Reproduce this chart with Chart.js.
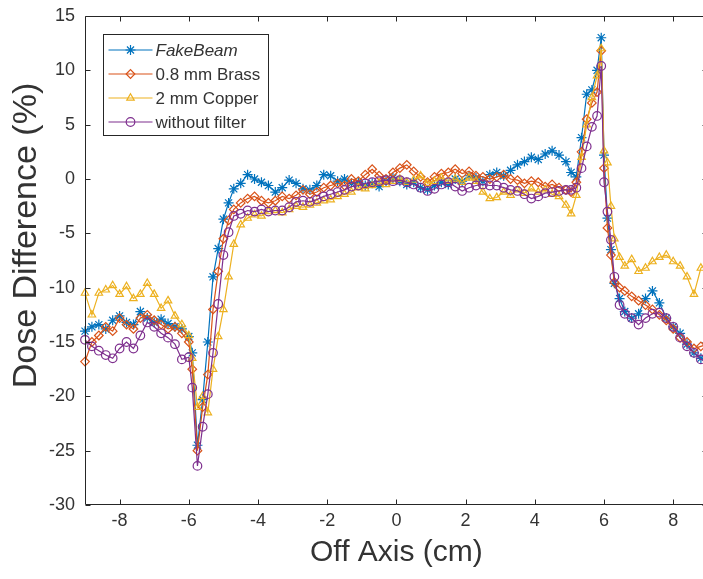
<!DOCTYPE html>
<html>
<head>
<meta charset="utf-8">
<title>Dose Difference vs Off Axis</title>
<script src="https://cdn.jsdelivr.net/npm/chart.js@4/dist/chart.umd.min.js"></script>
<style>
    html, body { margin: 0; padding: 0; background: #fff; overflow: hidden; }
    #wrap { width: 714px; height: 579px; }
</style>
</head>
<body>
<div id="wrap"><canvas id="dose-chart" width="714" height="579"></canvas></div>
<script>
// off-axis positions (cm) shared by all four profiles
const offAxisCm = [
    -9.0, -8.8, -8.6, -8.4, -8.2, -8.0, -7.8, -7.6, -7.4, -7.2, -7.0, -6.8, -6.6, -6.4, -6.2, -6.0,
    -5.9, -5.75, -5.6, -5.45, -5.3, -5.15, -5.0, -4.85, -4.7,
    -4.5, -4.3, -4.1, -3.9, -3.7, -3.5, -3.3, -3.1, -2.9, -2.7, -2.5, -2.3, -2.1, -1.9, -1.7, -1.5, -1.3, -1.1, -0.9, -0.7, -0.5, -0.3, -0.1, 0.1,
    0.3, 0.5, 0.7, 0.9, 1.1, 1.3, 1.5, 1.7, 1.9, 2.1, 2.3, 2.5, 2.7, 2.9, 3.1, 3.3, 3.5, 3.7, 3.9, 4.1, 4.3, 4.5, 4.7, 4.9,
    5.05, 5.2, 5.35, 5.5, 5.65, 5.8, 5.92, 6.0, 6.1, 6.2, 6.3, 6.45,
    6.6, 6.8, 7.0, 7.2, 7.4, 7.6, 7.8, 8.0, 8.2, 8.4, 8.6, 8.8, 9.0
];

// dose difference (%)
const fakeBeam = [
    -14.0, -13.6, -13.4, -13.8, -13.0, -12.6, -13.2, -13.4, -12.2, -12.8, -13.2, -12.9, -13.3, -13.6, -13.8, -14.5,
    -16.0, -24.5, -20.3, -15.0, -9.0, -6.4, -3.7, -2.2, -0.9,
    -0.4, 0.4, 0.0, -0.3, -0.6, -1.2, -0.8, -0.1, -0.4, -0.9, -1.0, -0.6, 0.4, 0.3, -0.2, 0.0, -0.4, -0.3, -0.6, -0.4, -0.7, -0.2, 0.1, -0.2,
    -0.5, -0.3, -0.8, -1.0, -0.6, -0.3, -0.5, 0.0, -0.2, 0.3, 0.1, -0.2, 0.4, 0.6, 0.3, 0.8, 1.3, 1.6, 2.0, 1.8, 2.3, 2.6, 2.2, 1.6,
    0.6, 0.2, 3.8, 7.8, 8.2, 10.0, 13.0, 2.2, -3.6, -6.5, -9.6, -11.0,
    -12.2, -12.8, -12.4, -11.0, -10.3, -11.4, -12.8, -13.6, -14.2, -15.2, -16.0, -16.5, -16.6
];
const brass08mm = [
    -16.8, -15.0, -14.4, -13.6, -14.0, -12.8, -13.4, -13.8, -12.8, -12.5, -13.0, -13.4, -13.8, -13.6, -14.2, -15.0,
    -17.5, -25.0, -21.0, -18.0, -12.0, -8.5, -5.5, -3.8, -2.8,
    -2.2, -1.8, -1.6, -2.0, -2.2, -2.0, -1.6, -1.8, -1.5, -1.0, -1.4, -1.2, -0.8, -0.6, -0.4, -0.6, 0.0, -0.2, 0.4, 0.9, 0.3, 0.0, 0.6, 1.0,
    1.3, 0.7, 0.2, -0.3, 0.2, 0.5, 0.6, 0.9, 0.5, 0.7, 0.3, 0.2, 0.0, 0.2, 0.4, 0.0, -0.1, -0.4, -0.2, -0.3, -0.7, -0.5, -0.8, -1.0,
    -1.2, -0.3, 2.5, 5.5, 7.0, 8.0, 11.8, 1.0, -4.5, -7.0, -9.5, -10.0,
    -10.3, -10.8, -11.2, -11.6, -12.0, -12.5, -13.0, -13.8, -14.6, -15.0, -15.6, -15.4, -15.2
];
const copper2mm = [
    -10.5, -12.5, -10.5, -10.2, -9.8, -10.6, -9.9, -11.0, -10.6, -9.6, -10.6, -11.9, -11.2, -12.6, -13.4, -14.4,
    -16.5, -21.0, -20.0, -21.5, -17.5, -14.5, -12.0, -9.0, -6.0,
    -4.2, -3.6, -3.3, -3.4, -3.0, -2.9, -3.1, -2.8, -2.5, -2.6, -2.4, -2.2, -2.0, -1.9, -1.6, -1.4, -1.2, -0.8, -0.9, -0.6, -0.4, -0.5, -0.2, 0.0,
    -0.3, -0.1, 0.3, -0.4, -0.2, 0.1, -0.2, 0.0, -0.3, 0.1, -0.2, -1.2, -1.8, -1.7, -1.2, -1.5, -1.0, -1.3, -0.9, -1.2, -1.0, -1.4, -1.6, -2.4,
    -3.2, -1.5, 2.0, 5.0, 7.5, 9.5, 12.0, 2.6, 1.5, -2.5, -5.5, -7.2,
    -8.0, -7.4, -8.5, -8.2, -7.6, -7.2, -7.0, -7.6, -8.0, -9.0, -10.6, -8.2, -7.6
];
const withoutFilter = [
    -14.8, -15.4, -15.8, -16.2, -16.5, -15.6, -15.0, -15.6, -14.4, -13.2, -13.6, -14.2, -14.6, -15.2, -16.6, -16.4,
    -19.2, -26.4, -22.8, -19.8, -16.0, -11.5, -7.0, -4.9, -3.4,
    -3.2, -2.9, -3.0, -2.8, -3.0, -2.9, -2.9, -2.6, -2.1, -2.0, -2.1, -1.9, -1.6, -1.4, -1.2, -1.0, -0.7, -0.6, -0.4, -0.3, -0.2, -0.1, -0.2, -0.1,
    -0.3, -0.5, -0.8, -1.1, -0.9, -0.5, -0.3, -0.7, -1.1, -0.8, -0.6, -0.5, -0.6, -0.6, -0.8, -1.0, -1.1, -1.4, -1.8, -1.6, -1.3, -1.2, -1.1, -1.0,
    -1.0, -0.8, 1.0, 3.0, 4.8, 5.8, 10.4, -0.3, -3.0, -5.6, -9.0, -11.6,
    -12.4, -12.8, -13.4, -12.8, -12.4, -12.3, -12.8, -13.6, -14.6, -15.4, -16.0, -16.6, -16.8
];

const seriesNames = ["FakeBeam", "0.8 mm Brass", "2 mm Copper", "without filter"];
const xTickValues = [-8, -6, -4, -2, 0, 2, 4, 6, 8];
const yTickValues = [-30, -25, -20, -15, -10, -5, 0, 5, 10, 15];
const yAxisTitle = "Dose Difference (%)";

const FONT = "'Liberation Sans', Arial, Helvetica, sans-serif";
const AXIS_COLOR = "#262626";
const TEXT_COLOR = "#333333";

function toPoints(values) {
    return offAxisCm.map((x, i) => ({ x: x, y: values[i] }));
}

function makeSeries(label, values, color, marker, order) {
    return {
        label: label,
        data: toPoints(values),
        borderColor: color,
        borderWidth: 1.2,
        pointStyle: marker,
        pointRadius: marker === "star" ? 5 : 4.3,
        pointBorderColor: color,
        pointBackgroundColor: "rgba(0,0,0,0)",
        pointBorderWidth: 1.2,
        pointHoverRadius: 4,
        tension: 0,
        fill: false,
        clip: false,
        order: order
    };
}

// box around the axes with inward tick marks, plus the rotated y title
const axesBox = {
    id: "axesBox",
    afterDatasetsDraw(chart) {
        const { ctx, chartArea: area } = chart;
        const xs = chart.scales.x, ys = chart.scales.y;
        const l = Math.round(area.left) + 0.5, r = Math.round(area.right) - 0.5;
        const t = Math.round(area.top) + 0.5, b = Math.round(area.bottom) - 0.5;
        const tick = 5;
        ctx.save();
        ctx.strokeStyle = AXIS_COLOR;
        ctx.lineWidth = 1;
        ctx.beginPath();
        ctx.rect(l, t, r - l, b - t);
        xTickValues.forEach(v => {
            const px = Math.round(xs.getPixelForValue(v)) + 0.5;
            ctx.moveTo(px, b); ctx.lineTo(px, b - tick);
            ctx.moveTo(px, t); ctx.lineTo(px, t + tick);
        });
        yTickValues.forEach(v => {
            const py = Math.round(ys.getPixelForValue(v)) + 0.5;
            ctx.moveTo(l, py); ctx.lineTo(l + tick, py);
            ctx.moveTo(r, py); ctx.lineTo(r - tick, py);
        });
        ctx.stroke();

        // y title sits a little above the middle of the axis
        ctx.translate(27, ys.getPixelForValue(-5.2));
        ctx.rotate(-Math.PI / 2);
        ctx.fillStyle = TEXT_COLOR;
        ctx.font = "34px " + FONT;
        ctx.textAlign = "center";
        ctx.textBaseline = "middle";
        ctx.fillText(yAxisTitle, 0, 0);
        ctx.restore();
    }
};

// legend box in the upper-left corner of the axes
const boxLegend = {
    id: "boxLegend",
    afterDraw(chart) {
        const { ctx, chartArea: area } = chart;
        const x0 = Math.round(area.left) + 18.5, y0 = Math.round(area.top) + 18.5;
        const w = 165, h = 101;
        ctx.save();
        ctx.fillStyle = "#ffffff";
        ctx.fillRect(x0, y0, w, h);
        ctx.strokeStyle = AXIS_COLOR;
        ctx.lineWidth = 1;
        ctx.strokeRect(x0, y0, w, h);

        const ordered = seriesNames.map(name => chart.data.datasets.find(d => d.label === name));
        ordered.forEach((ds, i) => {
            const rowY = y0 + 15.5 + i * 24;
            ctx.strokeStyle = ds.borderColor;
            ctx.lineWidth = 1.2;
            ctx.beginPath();
            ctx.moveTo(x0 + 5, rowY);
            ctx.lineTo(x0 + 49, rowY);
            ctx.stroke();
            ctx.fillStyle = "rgba(0,0,0,0)";
            Chart.helpers.drawPoint(ctx, {
                pointStyle: ds.pointStyle,
                radius: ds.pointRadius,
                borderWidth: 1.2,
                rotation: 0
            }, x0 + 27, rowY);
            ctx.fillStyle = TEXT_COLOR;
            ctx.textBaseline = "middle";
            ctx.textAlign = "left";
            ctx.font = (i === 0 ? "italic " : "") + "17px " + FONT;
            ctx.fillText(ds.label, x0 + 52, rowY + 1);
        });
        ctx.restore();
    }
};

const ctx = document.getElementById("dose-chart").getContext("2d");
new Chart(ctx, {
    type: "line",
    data: {
        datasets: [
            makeSeries(seriesNames[0], fakeBeam, "#0072BD", "star", 4),
            makeSeries(seriesNames[1], brass08mm, "#D95319", "rectRot", 3),
            makeSeries(seriesNames[2], copper2mm, "#EDB120", "triangle", 2),
            makeSeries(seriesNames[3], withoutFilter, "#7E2F8E", "circle", 1)
        ]
    },
    options: {
        responsive: false,
        devicePixelRatio: 1,
        animation: false,
        events: [],
        layout: { padding: { top: 16, right: 3, bottom: 0, left: 0 } },
        plugins: {
            legend: { display: false },
            tooltip: { enabled: false }
        },
        scales: {
            x: {
                type: "linear",
                min: -9,
                max: 9,
                afterBuildTicks: axis => { axis.ticks = xTickValues.map(v => ({ value: v })); },
                afterFit: axis => {
                    axis.height = 74;
                    axis.paddingLeft = 0;
                    axis.paddingRight = 0;
                },
                grid: { display: false, drawTicks: false },
                border: { display: false },
                ticks: {
                    autoSkip: false,
                    maxRotation: 0,
                    padding: 5,
                    color: TEXT_COLOR,
                    font: { family: FONT, size: 18 }
                },
                title: {
                    display: true,
                    text: "Off Axis (cm)",
                    color: TEXT_COLOR,
                    font: { family: FONT, size: 30 },
                    padding: { top: 0, bottom: 8 }
                }
            },
            y: {
                type: "linear",
                min: -30,
                max: 15,
                afterBuildTicks: axis => { axis.ticks = yTickValues.map(v => ({ value: v })); },
                afterFit: axis => {
                    axis.width = 85;
                    axis.paddingTop = 0;
                    axis.paddingBottom = 0;
                },
                grid: { display: false, drawTicks: false },
                border: { display: false },
                ticks: {
                    padding: 10,
                    color: TEXT_COLOR,
                    font: { family: FONT, size: 18 }
                }
            }
        }
    },
    plugins: [axesBox, boxLegend]
});
</script>
</body>
</html>
